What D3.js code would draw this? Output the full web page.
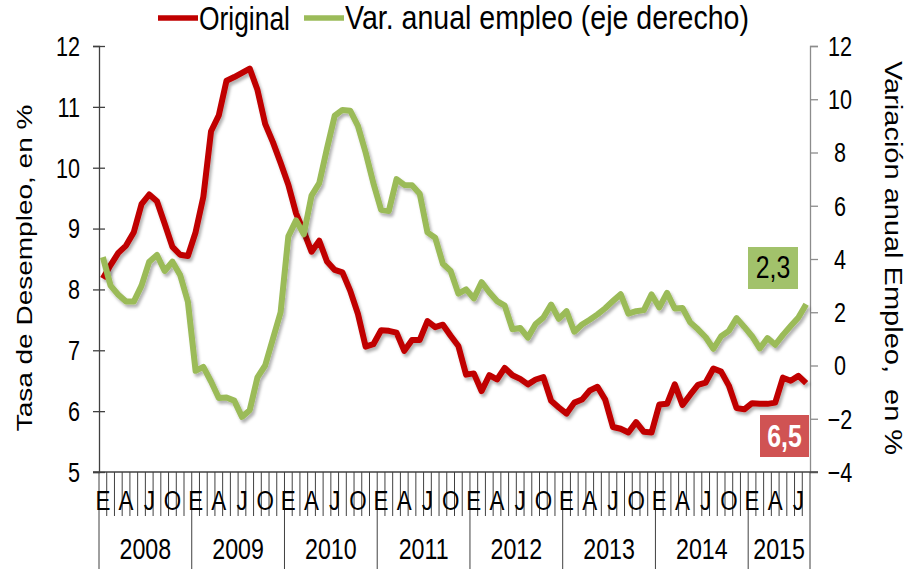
<!DOCTYPE html>
<html>
<head>
<meta charset="utf-8">
<script src="https://cdn.jsdelivr.net/npm/d3@7"></script>
<style>
body { margin: 0; background: #fff; }
text { font-family: "Liberation Sans", Arial, sans-serif; white-space: pre; }
</style>
</head>
<body>
<div id="chart"></div>
<script>
// monthly series, Jan 2008 - Aug 2015
const startYear = 2008;
const yearLabels = ["2008", "2009", "2010", "2011", "2012", "2013", "2014", "2015"];
const quarterLetters = ["E", "A", "J", "O"];
const seriesNames = ["Original", "Var. anual empleo (eje derecho)"];
const lastLabels = ["6,5", "2,3"];
const leftTicks = [5, 6, 7, 8, 9, 10, 11, 12];
const rightTicks = [-4, -2, 0, 2, 4, 6, 8, 10, 12];

// tasa de desempleo (eje izquierdo)
const desempleo = [
  8.18, 8.40, 8.60, 8.72, 8.94, 9.40, 9.56, 9.45, 9.08, 8.70, 8.57, 8.55,
  8.94, 9.52, 10.60, 10.86, 11.43, 11.49, 11.56, 11.63, 11.28, 10.72, 10.42, 10.08,
  9.72, 9.25, 8.95, 8.62, 8.80, 8.46, 8.32, 8.28, 7.98, 7.60, 7.06, 7.10,
  7.33, 7.32, 7.29, 6.99, 7.17, 7.17, 7.48, 7.38, 7.42, 7.24, 7.07, 6.60,
  6.62, 6.33, 6.59, 6.52, 6.71, 6.59, 6.53, 6.44, 6.52, 6.56, 6.17, 6.06,
  5.96, 6.14, 6.19, 6.34, 6.40, 6.19, 5.74, 5.71, 5.65, 5.82, 5.66, 5.65,
  6.11, 6.12, 6.44, 6.10, 6.27, 6.43, 6.47, 6.70, 6.65, 6.42, 6.05, 6.03,
  6.13, 6.12, 6.12, 6.14, 6.55, 6.50, 6.58, 6.46
];

// variacion anual del empleo (eje derecho)
const empleo = [
  4.07, 3.00, 2.66, 2.40, 2.40, 3.00, 3.90, 4.15, 3.55, 3.90, 3.40, 2.40,
  -0.20, -0.05, -0.60, -1.22, -1.20, -1.32, -1.93, -1.68, -0.45, 0.00, 1.00, 2.00,
  4.85, 5.45, 4.93, 6.38, 6.85, 8.15, 9.38, 9.60, 9.57, 9.00, 8.00, 6.85,
  5.85, 5.80, 7.00, 6.78, 6.77, 6.45, 5.00, 4.80, 3.82, 3.55, 2.70, 2.86,
  2.52, 3.13, 2.75, 2.42, 2.25, 1.36, 1.41, 1.05, 1.56, 1.80, 2.29, 1.75,
  2.04, 1.27, 1.54, 1.72, 1.92, 2.15, 2.42, 2.68, 1.95, 2.04, 2.08, 2.67,
  2.18, 2.73, 2.14, 2.16, 1.62, 1.36, 1.06, 0.63, 1.10, 1.30, 1.78, 1.45,
  1.10, 0.64, 1.03, 0.78, 1.15, 1.48, 1.80, 2.30
];

const redColor = "#C00000", greenColor = "#9BBB59";
const sx = 0.8; // texto algo comprimido en horizontal, como en el original

const width = 912, height = 569;
const plot = { left: 99, right: 810, top: 46, bottom: 472 };

const svg = d3.select("#chart").append("svg")
  .attr("width", width)
  .attr("height", height);

const defs = svg.append("defs");
defs.append("filter")
    .attr("id", "shadow")
    .attr("x", "-10%").attr("y", "-10%")
    .attr("width", "120%").attr("height", "130%")
  .append("feDropShadow")
    .attr("dx", 2).attr("dy", 3)
    .attr("stdDeviation", 1.8)
    .attr("flood-color", "#000")
    .attr("flood-opacity", 0.3);

const n = desempleo.length;
const x = d3.scaleBand()
  .domain(d3.range(n))
  .range([plot.left, plot.right]);
const xc = i => x(i) + x.bandwidth() / 2;

const yL = d3.scaleLinear().domain([5, 12]).range([plot.bottom, plot.top]);
const yR = d3.scaleLinear().domain([-4, 12]).range([plot.bottom, plot.top]);

// helper for squeezed text
function squeezed(g, px, py, str, size, anchor, rot, k) {
  return g.append("text")
    .attr("transform", "translate(" + px + "," + py + ") scale(" + (k || sx) + ",1)" + (rot ? " rotate(" + rot + ")" : ""))
    .attr("text-anchor", anchor || "start")
    .attr("dominant-baseline", "central")
    .style("font-size", size + "px")
    .text(str);
}

//LEFT AXIS
const leftAxis = svg.append("g")
  .attr("transform", "translate(" + plot.left + ",0)")
  .call(d3.axisLeft(yL).tickValues(leftTicks).tickSize(6).tickFormat(d3.format("d")));
leftAxis.select(".domain").attr("stroke", "#404040").attr("stroke-width", 1.3);
leftAxis.selectAll(".tick line").attr("x1", 6).attr("stroke", "#404040").attr("stroke-width", 1.3);
leftAxis.selectAll(".tick text")
  .attr("x", 0).attr("dy", null)
  .attr("dominant-baseline", "central")
  .attr("transform", "translate(-19,0) scale(" + sx + ",1)")
  .style("font-size", "27px")
  .attr("fill", "#000");

//RIGHT AXIS
const rightAxis = svg.append("g")
  .attr("transform", "translate(" + plot.right + ",0)")
  .call(d3.axisRight(yR).tickValues(rightTicks).tickSize(8).tickFormat(d3.format("d")));
rightAxis.select(".domain").attr("stroke", "#8c8c8c").attr("stroke-width", 1.3);
rightAxis.selectAll(".tick line").attr("stroke", "#8c8c8c").attr("stroke-width", 1.3);
rightAxis.selectAll(".tick text")
  .attr("x", 0).attr("dy", null)
  .attr("dominant-baseline", "central")
  .attr("text-anchor", "middle")
  .attr("transform", "translate(30,0) scale(" + sx + ",1)")
  .style("font-size", "27px")
  .attr("fill", "#000");

//BOTTOM AXIS (months, quarters, years)
const bottom = svg.append("g");
bottom.append("line")
  .attr("x1", plot.left - 6).attr("x2", plot.right + 8)
  .attr("y1", plot.bottom).attr("y2", plot.bottom)
  .attr("stroke", "#404040").attr("stroke-width", 1.3);
d3.range(n + 1).forEach(i => {
  const bx = i < n ? x(i) : plot.right;
  const isYear = i % 12 === 0 || i === n;
  bottom.append("line")
    .attr("x1", bx).attr("x2", bx)
    .attr("y1", plot.bottom)
    .attr("y2", isYear ? height : 516)
    .attr("stroke", "#404040").attr("stroke-width", 1);
});
d3.range(n).filter(i => i % 3 === 0).forEach(i => {
  squeezed(bottom, xc(i), 500, quarterLetters[(i % 12) / 3], 28, "middle");
});
yearLabels.forEach((yr, k) => {
  const a = x(k * 12);
  const b = Math.min(k * 12 + 12, n);
  const bEnd = b < n ? x(b) : plot.right;
  squeezed(bottom, (a + bEnd) / 2, 549, yr, 29, "middle");
});

//AXIS TITLES
squeezed(svg, 24, 268, "Tasa de Desempleo, en %", 28, "middle", -90);
squeezed(svg, 893, 258, "Variación anual Empleo,  en %", 29, "middle", 90);

//CURVES
const lineL = d3.line().x((d, i) => xc(i)).y(d => yL(d)).curve(d3.curveLinear);
const lineR = d3.line().x((d, i) => xc(i)).y(d => yR(d)).curve(d3.curveLinear);

svg.append("path")
  .datum(desempleo)
  .attr("d", lineL)
  .attr("fill", "none")
  .attr("stroke", redColor)
  .attr("stroke-width", 6)
  .attr("stroke-linejoin", "round")
  .attr("filter", "url(#shadow)");

svg.append("path")
  .datum(empleo)
  .attr("d", lineR)
  .attr("fill", "none")
  .attr("stroke", greenColor)
  .attr("stroke-width", 6)
  .attr("stroke-linejoin", "round")
  .attr("filter", "url(#shadow)");

//LAST VALUE LABELS
const redBox = svg.append("g");
redBox.append("rect")
  .attr("x", 760).attr("y", 415).attr("width", 49).attr("height", 42)
  .attr("fill", "#D05353");
squeezed(redBox, 784.5, 437, lastLabels[0], 31, "middle")
  .attr("fill", "#fff").style("font-weight", "bold");

const greenBox = svg.append("g");
greenBox.append("rect")
  .attr("x", 748).attr("y", 247).attr("width", 50).attr("height", 42)
  .attr("fill", "#A2C26B");
squeezed(greenBox, 773, 268, lastLabels[1], 31, "middle").attr("fill", "#000");

//LEGEND
const legend = svg.append("g").attr("id", "legend");
const legendItems = [
  { name: seriesNames[0], color: redColor, x0: 158, k: 0.8 },
  { name: seriesNames[1], color: greenColor, x0: 304, k: 0.865 }
];
legendItems.forEach(d => {
  legend.append("line")
    .attr("x1", d.x0).attr("x2", d.x0 + 40)
    .attr("y1", 18).attr("y2", 18)
    .attr("stroke", d.color).attr("stroke-width", 5.5);
  squeezed(legend, d.x0 + 41, 18, d.name, 33, "start", null, d.k);
});
</script>
</body>
</html>
